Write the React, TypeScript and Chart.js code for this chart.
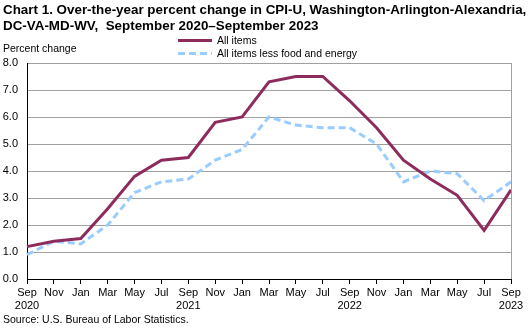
import React, { useEffect, useRef } from "react";
import { Chart, registerables } from "chart.js";
Chart.register(...registerables);

const months = ["Sep","Nov","Jan","Mar","May","Jul","Sep","Nov","Jan","Mar","May","Jul","Sep","Nov","Jan","Mar","May","Jul","Sep"];
const years = ["2020","","","","","","2021","","","","","","2022","","","","","","2023"];
const allItems = [1.2,1.4,1.5,2.6,3.8,4.4,4.5,5.8,6.0,7.3,7.5,7.5,6.6,5.6,4.4,3.7,3.1,1.8,3.3];
const coreItems = [0.9,1.4,1.3,2.0,3.2,3.6,3.7,4.4,4.8,6.0,5.7,5.6,5.6,5.0,3.6,4.0,3.9,2.9,3.6];
const titleLines = [
  "Chart 1. Over-the-year percent change in CPI-U, Washington-Arlington-Alexandria,",
  "DC-VA-MD-WV,  September 2020\u2013September 2023",
];
const yAxisTitle = "Percent change";
const sourceText = "Source: U.S. Bureau of Labor Statistics.";
const seriesNames = ["All items", "All items less food and energy"];

const MAROON = "#8e2b5d";
const LIGHTBLUE = "#99ccff";
const FONT = "'Liberation Sans', Arial, sans-serif";

const decor = {
  id: "decor",
  afterDraw(chart: any) {
    const ctx = chart.ctx;
    const ca = chart.chartArea;
    ctx.save();
    // right border
    ctx.strokeStyle = "#a0a0a0";
    ctx.lineWidth = 1;
    ctx.beginPath();
    ctx.moveTo(Math.round(ca.right) + 0.5, ca.top);
    ctx.lineTo(Math.round(ca.right) + 0.5, ca.bottom);
    ctx.stroke();
    // title
    ctx.fillStyle = "#000";
    ctx.textBaseline = "alphabetic";
    ctx.textAlign = "left";
    ctx.font = `bold 13.4px ${FONT}`;
    ctx.fillText(titleLines[0], 3, 13.5);
    ctx.fillText(titleLines[1], 3, 29.5);
    ctx.font = `10.5px ${FONT}`;
    ctx.fillText(yAxisTitle, 3, 52);
    ctx.fillText(sourceText, 3, 323);
    // legend
    ctx.fillText(seriesNames[0], 217, 44);
    ctx.fillText(seriesNames[1], 217, 57);
    ctx.lineWidth = 3;
    ctx.strokeStyle = MAROON;
    ctx.beginPath();
    ctx.moveTo(178, 40.5);
    ctx.lineTo(212, 40.5);
    ctx.stroke();
    ctx.strokeStyle = LIGHTBLUE;
    ctx.setLineDash([7, 4]);
    ctx.beginPath();
    ctx.moveTo(178, 53.5);
    ctx.lineTo(212, 53.5);
    ctx.stroke();
    ctx.restore();
  },
};

export default function App() {
  const ref = useRef<HTMLCanvasElement | null>(null);
  useEffect(() => {
    document.body.style.margin = "0";
    const labels = months.map((m, i) => (years[i] ? [m, years[i]] : m));
    const chart = new Chart(ref.current!, {
      type: "line",
      data: {
        labels,
        datasets: [
          {
            label: seriesNames[0],
            data: allItems,
            borderColor: MAROON,
            borderWidth: 3,
            pointRadius: 0,
            tension: 0,
          },
          {
            label: seriesNames[1],
            data: coreItems,
            borderColor: LIGHTBLUE,
            borderWidth: 3,
            borderDash: [7, 4],
            pointRadius: 0,
            tension: 0,
          },
        ],
      },
      options: {
        responsive: false,
        animation: false,
        layout: { padding: { top: 63, right: 21, left: 0, bottom: 0 } },
        plugins: { legend: { display: false }, title: { display: false }, tooltip: { enabled: false } },
        scales: {
          x: {
            offset: false,
            grid: { display: true, drawOnChartArea: false, drawTicks: true, tickLength: 5, color: "#000" },
            border: { display: true, color: "#000", width: 1 },
            ticks: {
              autoSkip: false,
              maxRotation: 0,
              color: "#000",
              padding: 2,
              font: { family: FONT, size: 11 },
            },
            afterFit(scale: any) { scale.height = 50; },
          },
          y: {
            min: 0,
            max: 8,
            grid: { color: "#a0a0a0", drawTicks: false, tickLength: 0 },
            border: { display: true, color: "#000", width: 1 },
            ticks: {
              stepSize: 1,
              color: "#000",
              padding: 9,
              font: { family: FONT, size: 11 },
              callback: (v: any) => Number(v).toFixed(1),
            },
            afterFit(scale: any) { scale.width = 27; },
          },
        },
      },
      plugins: [decor],
    });
    return () => chart.destroy();
  }, []);
  return (
    <div style={{ position: "absolute", left: 0, top: 0, width: 532, height: 329, background: "#fff" }}>
      <canvas ref={ref} width={532} height={329} />
    </div>
  );
}
